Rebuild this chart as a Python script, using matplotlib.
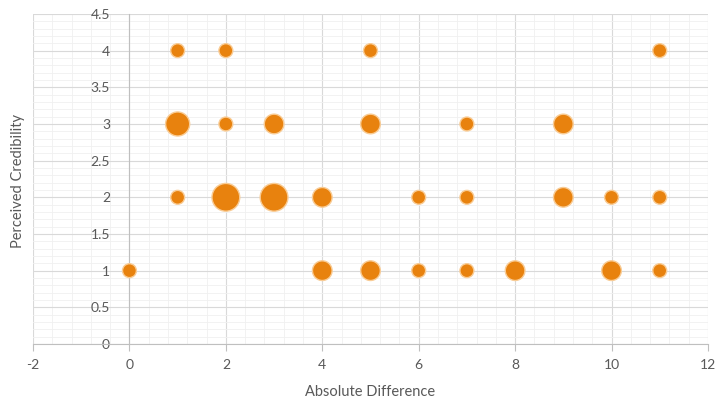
import numpy as np
import matplotlib
matplotlib.use('Agg')
import matplotlib.pyplot as plt
from matplotlib.ticker import MultipleLocator

# 数据：绝对差、可信度、气泡大小（计数）
abs_diff = [1, 2, 5, 11,
            1, 2, 3, 5, 7, 9,
            1, 2, 3, 4, 6, 7, 9, 10, 11,
            0, 4, 5, 6, 7, 8, 10, 11]
credibility = [4, 4, 4, 4,
               3, 3, 3, 3, 3, 3,
               2, 2, 2, 2, 2, 2, 2, 2, 2,
               1, 1, 1, 1, 1, 1, 1, 1]
counts = [1, 1, 1, 1,
          3, 1, 2, 2, 1, 2,
          1, 4, 4, 2, 1, 1, 2, 1, 1,
          1, 2, 2, 1, 1, 2, 2, 1]

plt.rcParams['font.family'] = ['Lato', 'DejaVu Sans']
plt.rcParams['axes.unicode_minus'] = False
text_col = '#595959'

fig = plt.figure(figsize=(7.18, 4.11), dpi=100)
ax = fig.add_axes([0.046, 0.163, 0.94, 0.803])

ax.scatter(abs_diff, credibility, s=np.array(counts) * 100,
           color='#E8820E', edgecolor='#F9CC95', linewidth=1.0, zorder=3)

ax.set_xlim(-2, 12)
ax.set_ylim(0, 4.5)
ax.xaxis.set_major_locator(MultipleLocator(2))
ax.xaxis.set_minor_locator(MultipleLocator(0.4))
ax.yaxis.set_major_locator(MultipleLocator(0.5))
ax.yaxis.set_minor_locator(MultipleLocator(0.1))
ax.yaxis.set_major_formatter(plt.FuncFormatter(lambda v, p: f'{v:g}'))

ax.grid(which='major', color='#d9d9d9', linewidth=0.8, zorder=0)
ax.grid(which='minor', color='#f0f0f0', linewidth=0.6, zorder=0)
ax.set_axisbelow(True)

for s in ['top', 'right']:
    ax.spines[s].set_visible(False)
ax.spines['left'].set_position(('data', 0))
ax.spines['left'].set_color('#bfbfbf')
ax.spines['bottom'].set_color('#bfbfbf')

ax.tick_params(axis='x', which='major', length=5, color='#bfbfbf',
               labelsize=10, labelcolor=text_col, pad=6)
ax.tick_params(axis='y', which='major', length=0, labelsize=10,
               labelcolor=text_col, pad=14)
ax.tick_params(which='minor', length=0)

fig.text(0.516, 0.03, 'Absolute Difference', ha='center', va='bottom',
         fontsize=10.5, color=text_col)
fig.text(0.025, 0.56, 'Perceived Credibility', ha='center', va='center',
         rotation=90, fontsize=10.5, color=text_col)

fig.savefig('out.png', dpi=100)
